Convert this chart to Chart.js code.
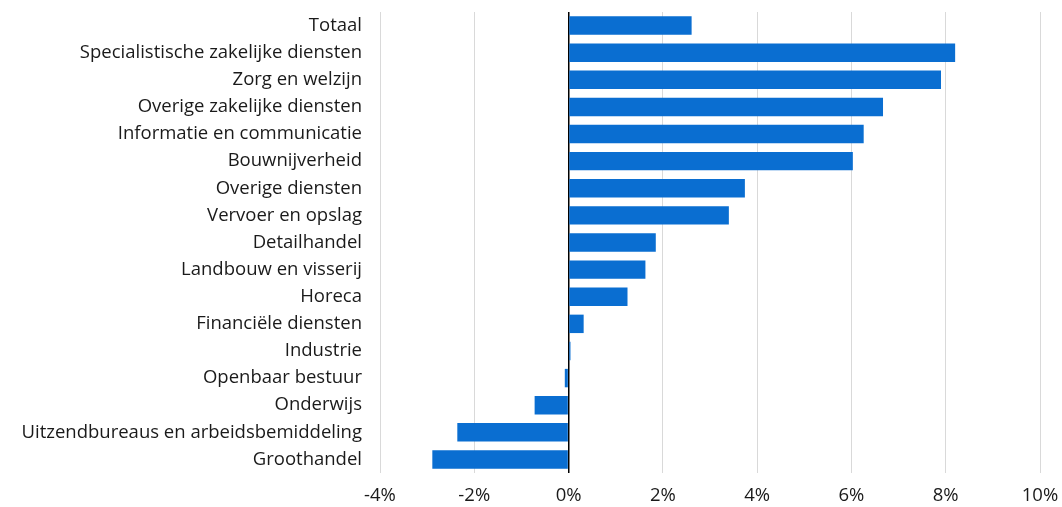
<!DOCTYPE html>
<html>
<head>
<meta charset="utf-8">
<script src="https://cdn.jsdelivr.net/npm/chart.js@4"></script>
<style>
  html, body { margin: 0; padding: 0; background: #fff; }
  #wrap { width: 1062px; height: 507px; }
</style>
</head>
<body>
<div id="wrap"><canvas id="myChart"></canvas></div>
<script>
// Data
const sectoren = ['Totaal', 'Specialistische zakelijke diensten', 'Zorg en welzijn', 'Overige zakelijke diensten',
  'Informatie en communicatie', 'Bouwnijverheid', 'Overige diensten', 'Vervoer en opslag', 'Detailhandel',
  'Landbouw en visserij', 'Horeca', 'Financiële diensten', 'Industrie', 'Openbaar bestuur', 'Onderwijs',
  'Uitzendbureaus en arbeidsbemiddeling', 'Groothandel'];
const groei = [2.61, 8.2, 7.9, 6.67, 6.26, 6.03, 3.74, 3.4, 1.85, 1.63, 1.25, 0.32, 0.04, -0.08, -0.72, -2.36, -2.89];
const xTicks = [-4, -2, 0, 2, 4, 6, 8, 10];

const ctx = document.getElementById('myChart');

Chart.defaults.font.family = 'Open Sans';
Chart.defaults.color = '#1a1a1a';

new Chart(ctx, {
  type: 'bar',
  data: {
    labels: sectoren,
    datasets: [{
      data: groei,
      backgroundColor: '#0a6ed1',
      barPercentage: 0.68,
      categoryPercentage: 1
    }]
  },
  options: {
    indexAxis: 'y',
    responsive: true,
    maintainAspectRatio: false,
    animation: false,
    layout: { padding: { top: 12, right: 22, left: 0, bottom: 0 } },
    plugins: {
      legend: { display: false },
      tooltip: { enabled: false }
    },
    scales: {
      x: {
        min: -4,
        max: 10,
        afterBuildTicks: scale => { scale.ticks = xTicks.map(v => ({ value: v })); },
        afterFit: scale => { scale.height = 34; scale.paddingRight = 0; scale.paddingLeft = 0; },
        border: { display: false },
        grid: {
          drawTicks: false,
          color: c => (c.tick && c.tick.value === 0) ? '#000' : '#d9d9d9',
          lineWidth: c => (c.tick && c.tick.value === 0) ? 1.5 : 1
        },
        ticks: {
          padding: 12,
          font: { size: 18.5 },
          callback: v => v + '%'
        }
      },
      y: {
        afterFit: scale => { scale.width = 380; scale.paddingTop = 0; scale.paddingBottom = 0; },
        border: { display: false },
        grid: { display: false },
        ticks: {
          padding: 10,
          autoSkip: false,
          font: { size: 18.5 }
        }
      }
    }
  }
});
</script>
</body>
</html>
